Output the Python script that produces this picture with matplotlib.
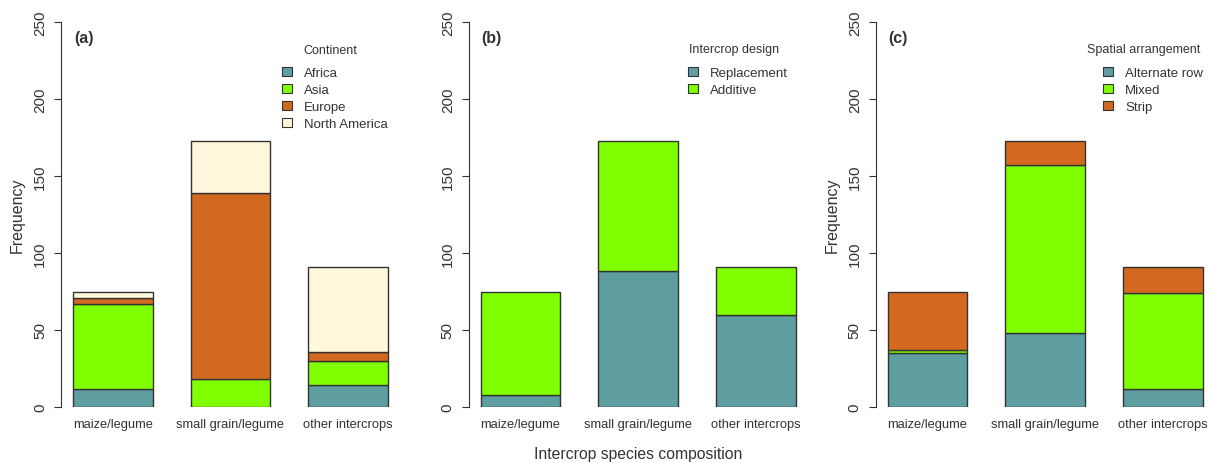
import numpy as np
import matplotlib.pyplot as plt
from matplotlib.patches import Patch

plt.rcParams['font.family'] = ['Liberation Sans', 'DejaVu Sans']

groups = ['maize/legume', 'small grain/legume', 'other intercrops']

# panel (a): continent
continent_names = ['Africa', 'Asia', 'Europe', 'North America']
africa = [12, 0, 14]
asia = [55, 18, 16]
europe = [4, 121, 6]
north_america = [4, 34, 55]

# panel (b): intercrop design
design_names = ['Replacement', 'Additive']
replacement = [8, 88, 60]
additive = [67, 85, 31]

# panel (c): spatial arrangement
arrangement_names = ['Alternate row', 'Mixed', 'Strip']
alternate_row = [35, 48, 12]
mixed = [2, 109, 62]
strip = [38, 16, 17]

colors = ['cadetblue', 'chartreuse', 'chocolate', 'cornsilk']
txt = '#333333'
W, H = 1211, 464

fig = plt.figure(figsize=(W / 100, H / 100), dpi=100)

# letter, legend title, names, series, axis x (px), legend right (px), title centre (px), ylabel
panels = [
    ('(a)', 'Continent', continent_names, [africa, asia, europe, north_america], 61, 388, 330, True),
    ('(b)', 'Intercrop design', design_names, [replacement, additive], 468.7, 788, 734, False),
    ('(c)', 'Spatial arrangement', arrangement_names, [alternate_row, mixed, strip], 875.7, 1203, 1144, True),
]

x = np.arange(len(groups))
for letter, ltitle, names, series, left_px, leg_right, title_x, ylab in panels:
    ax = fig.add_axes([left_px / W, 1 - 408 / H, 339 / W, 385 / H])
    bottom = np.zeros(len(groups))
    for vals, c in zip(series, colors):
        ax.bar(x, vals, width=0.675, bottom=bottom, color=c, edgecolor='#333333', linewidth=1)
        bottom += np.array(vals)
    ax.set_xlim(-0.44, 2.44)
    ax.set_ylim(0, 250)
    for s in ['top', 'right', 'bottom']:
        ax.spines[s].set_visible(False)
    ax.spines['left'].set_color('#333333')
    ax.set_yticks(range(0, 251, 50))
    ax.tick_params(axis='y', length=5, color='#333333', labelsize=11, labelcolor=txt, pad=5)
    for lbl in ax.get_yticklabels():
        lbl.set_rotation(90)
        lbl.set_va('center')
    ax.set_xticks(x)
    ax.set_xticklabels(groups, fontsize=9.3, color=txt)
    ax.tick_params(axis='x', length=0, pad=8)
    if ylab:
        ax.set_ylabel('Frequency', fontsize=11.5, color=txt, labelpad=6)
    ax.text(13 / 339, (408 - 39) / 385, letter, transform=ax.transAxes, fontsize=11.5,
            fontweight='bold', color=txt, ha='left', va='center')
    handles = [Patch(facecolor=c, edgecolor='#333333', linewidth=0.8) for c in colors[:len(names)]]
    ax.legend(handles, names, loc='upper right', frameon=False,
              bbox_to_anchor=(leg_right / W, 1 - 67.5 / H), bbox_transform=fig.transFigure,
              fontsize=9.5, handlelength=0.75, handleheight=0.75,
              handletextpad=0.9, labelspacing=0.35, borderpad=0, borderaxespad=0,
              labelcolor=txt)
    fig.text(title_x / W, 1 - 50.5 / H, ltitle, fontsize=9, color=txt, ha='center', va='center')
    if letter == '(b)':
        ax.set_xlabel('Intercrop species composition', fontsize=11.3, color=txt, labelpad=11.5)

fig.savefig('out.png', dpi=100)
